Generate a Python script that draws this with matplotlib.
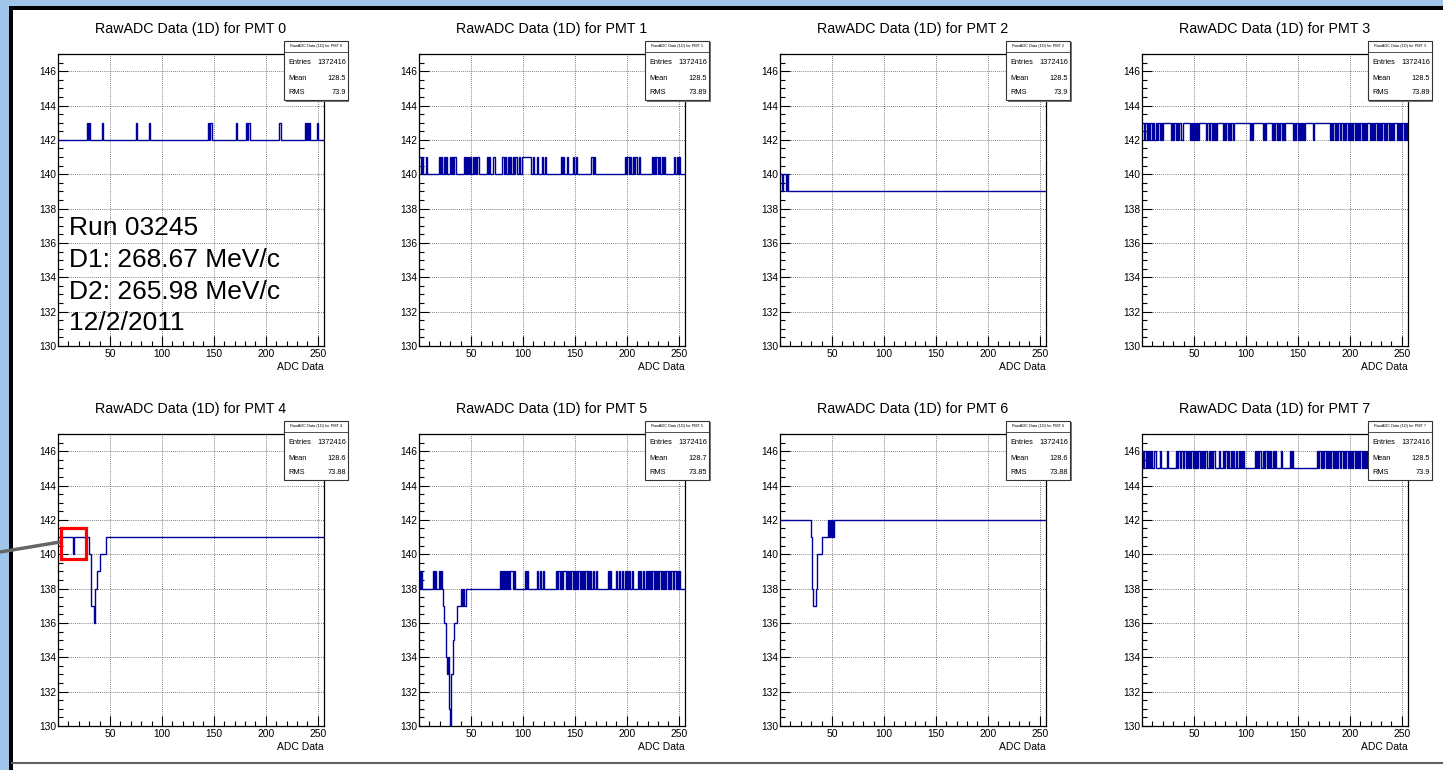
import matplotlib.pyplot as plt
import numpy as np
from matplotlib.patches import Rectangle
from matplotlib.ticker import FixedLocator, MultipleLocator

plt.rcParams["font.family"] = ["Liberation Sans", "DejaVu Sans"]

# ---- data (256 bins, 0..256) ----
n_bins = 256
pmt_ids = [0, 1, 2, 3, 4, 5, 6, 7]
base_level = [142, 140, 139, 142, 141, 138, 142, 145]

# bins that sit one count above the base level
up0 = [28, 30, 42, 75, 88, 144, 146, 147, 171, 181, 183, 184, 213, 214, 238, 240, 242, 249]
up1 = [0, 1, 3, 7, 19, 21, 24, 26, 30, 32, 34, 35, 43, 45, 47, 49, 52, 54, 56, 57,
       65, 67, 71, 72, 80, 81, 83, 86, 88, 90, 92, 93, 96,
       99, 100, 101, 102, 103, 104, 105, 106, 107, 110, 114, 118, 121,
       137, 139, 142, 148, 151, 166, 168, 198, 200, 201, 203, 206, 208, 209, 212,
       224, 226, 228, 229, 231, 234, 236, 245, 248, 250]
up2 = [0, 1, 3, 4, 5, 7]
up3 = [0, 1, 3, 4, 6, 8, 9, 11, 13, 15, 16, 18,
       20, 21, 22, 23, 24, 25, 26, 27, 29, 31, 32, 34, 36, 37,
       39, 40, 41, 42, 43, 44, 45, 47, 49, 51, 53,
       55, 56, 57, 58, 59, 60, 61, 63, 65, 66, 68, 70,
       72, 73, 74, 75, 76, 77, 79, 81, 82, 84, 86, 87,
       89, 90, 91, 92, 93, 94, 95, 96, 97, 98, 99, 100, 101, 102, 103, 105,
       107, 108, 109, 110, 111, 112, 113, 114, 115, 117,
       119, 120, 121, 122, 123, 124, 126, 128, 129, 131, 133, 134, 136, 138,
       139, 140, 141, 142, 143, 144, 146, 148, 149, 151, 153, 155, 157,
       158, 159, 160, 161, 162, 163, 164, 166, 167, 168, 169, 170, 171, 172, 173,
       174, 175, 176, 177, 178, 179, 180,
       182, 184, 185, 187, 189, 190, 192, 194, 196, 197, 199, 201, 203, 204, 206,
       208, 210, 211, 213, 215, 217, 218, 220, 222, 224, 225, 227, 229, 231, 232,
       234, 236, 237, 239, 241, 243, 244, 246, 248, 250, 251, 253, 255]
up4 = []
up5 = [0, 2, 13, 15, 19, 21,
       78, 80, 82, 84, 86, 88, 89, 91, 102, 104, 114, 116, 119,
       132, 134, 135, 137, 139, 140, 142, 144, 146, 147, 149, 151, 153, 154, 156,
       158, 160, 161, 163, 165, 167, 170, 182, 184, 190, 192, 195,
       198, 200, 202, 205, 211, 213, 216, 218,
       220, 222, 224, 225, 227, 229, 231, 232, 234, 236, 238, 239, 241, 243,
       245, 246, 248, 250]
up6 = []
up7 = [0, 2, 3, 5, 7, 9, 12, 17, 24,
       33, 35, 36, 38, 40, 41, 43, 45, 47, 48, 50, 52, 54, 55, 57, 59, 61, 62,
       64, 66, 68, 69, 74, 78, 80, 81, 83, 86, 88, 90, 93, 95, 97,
       109, 111, 113, 114, 116, 118, 119, 121, 123, 126, 128, 134, 142, 144,
       168, 170, 171, 173, 175, 176, 178, 180, 182, 183, 185, 187, 189, 190,
       192, 194, 196, 197, 199, 201, 203, 204, 206, 208, 210, 211, 213, 215,
       217, 219, 220, 222, 224, 226, 227, 229, 231, 233, 234, 236, 238, 240,
       241, 243, 245, 247, 248, 250, 252, 254]
up_bins = [up0, up1, up2, up3, up4, up5, up6, up7]

# (first bin, last bin, level) for the deeper dips
dips4 = [(14, 14, 140), (30, 31, 140), (32, 34, 137), (35, 35, 136),
         (36, 37, 138), (38, 39, 139), (40, 45, 140)]
dips5 = [(23, 23, 137), (24, 25, 136), (26, 26, 134), (27, 27, 133),
         (28, 28, 134), (29, 29, 131), (30, 30, 129), (31, 32, 133),
         (33, 33, 135), (34, 36, 136), (37, 39, 137), (41, 41, 137),
         (43, 44, 137)]
dips6 = [(30, 30, 141), (31, 31, 138), (32, 34, 137), (35, 35, 138),
         (36, 39, 140), (40, 45, 141), (47, 47, 141), (49, 49, 141), (51, 51, 141)]
dip_runs = [[], [], [], [], dips4, dips5, dips6, []]

entries = ["1372416"] * 8
means = ["128.5", "128.5", "128.5", "128.5", "128.6", "128.7", "128.6", "128.5"]
rms = ["73.9", "73.89", "73.9", "73.89", "73.88", "73.85", "73.88", "73.9"]

run_info = ["Run 03245", "D1: 268.67 MeV/c", "D2: 265.98 MeV/c", "12/2/2011"]

# ---- layout (pixels) ----
W, H = 1443, 770
col_left = [58, 419, 780, 1142]
row_top = [54, 434]
ax_w, ax_h = 266, 292
line_col = "#00009c"

fig = plt.figure(figsize=(W / 100, H / 100), dpi=100)
fig.patch.set_facecolor("white")

for i, pmt in enumerate(pmt_ids):
    r, c = divmod(i, 4)
    ax = fig.add_axes([col_left[c] / W, 1 - (row_top[r] + ax_h) / H, ax_w / W, ax_h / H])

    vals = np.full(n_bins, base_level[i], dtype=float)
    vals[up_bins[i]] = base_level[i] + 1
    for b0, b1, lev in dip_runs[i]:
        vals[b0:b1 + 1] = lev
    edges = np.arange(n_bins + 1)
    ax.stairs(vals, edges, baseline=None, color=line_col, lw=1.0, zorder=3)

    ax.set_xlim(0, 256)
    ax.set_ylim(130, 147)
    ax.xaxis.set_major_locator(FixedLocator([50, 100, 150, 200, 250]))
    ax.xaxis.set_minor_locator(MultipleLocator(10))
    ax.yaxis.set_major_locator(MultipleLocator(2))
    ax.yaxis.set_minor_locator(MultipleLocator(0.5))
    ax.tick_params(which="both", direction="in", top=False, right=False,
                   labelsize=7.4, pad=1.5, width=0.8, color="black")
    ax.tick_params(which="major", length=7)
    ax.tick_params(which="minor", length=3.5)
    ax.tick_params(axis="x", pad=2.5)
    ax.grid(which="major", color="#555555", linestyle=(0, (1, 1.5)), linewidth=0.6)
    for sp in ax.spines.values():
        sp.set_linewidth(0.9)

    title = f"RawADC Data (1D) for PMT {pmt}"
    ax.text(0.5, 1 + 25 / ax_h, title, transform=ax.transAxes,
            ha="center", va="center", fontsize=10.3)
    ax.text(1.0, -21 / ax_h, "ADC Data", transform=ax.transAxes,
            ha="right", va="center", fontsize=7.5)

    # stats box
    bx0, bx1 = 226 / ax_w, 290 / ax_w
    by0, by1 = 1 - 46 / ax_h, 1 + 13 / ax_h
    ax.add_patch(Rectangle((bx0 + 1.5 / ax_w, by0 - 1.5 / ax_h), bx1 - bx0, by1 - by0,
                           transform=ax.transAxes, facecolor="#777777", edgecolor="none",
                           clip_on=False, zorder=9))
    ax.add_patch(Rectangle((bx0, by0), bx1 - bx0, by1 - by0, transform=ax.transAxes,
                           facecolor="white", edgecolor="#333333", lw=0.8,
                           clip_on=False, zorder=10))
    sep = 1 + 2 / ax_h
    ax.plot([bx0, bx1], [sep, sep], transform=ax.transAxes, color="#333333",
            lw=0.6, clip_on=False, zorder=11)
    ax.text((bx0 + bx1) / 2, 1 + 7.5 / ax_h, title, transform=ax.transAxes,
            ha="center", va="center", fontsize=2.8, zorder=11)
    lx, rx = 230 / ax_w, 288 / ax_w
    for name, val, yy in [("Entries", entries[i], 9), ("Mean", means[i], 24), ("RMS", rms[i], 38)]:
        ax.text(lx, 1 - yy / ax_h, name, transform=ax.transAxes, ha="left",
                va="center", fontsize=5.3, zorder=11)
        ax.text(rx, 1 - yy / ax_h, val, transform=ax.transAxes, ha="right",
                va="center", fontsize=5.3, zorder=11)

    if pmt == 0:
        for k, line in enumerate(run_info):
            yc = [228, 260, 292, 323][k]
            ax.text(11 / ax_w, 1 - (yc - row_top[0]) / ax_h, line, transform=ax.transAxes,
                    ha="left", va="center", fontsize=19, zorder=4)

# ---- screenshot frame, callout and highlight box ----
ov = fig.add_axes([0, 0, 1, 1], zorder=20)
ov.set_xlim(0, W)
ov.set_ylim(H, 0)
ov.axis("off")
ov.patch.set_alpha(0)
ov.add_patch(Rectangle((0, 0), W, 5.5, facecolor="#9fc5e8", edgecolor="none"))
ov.add_patch(Rectangle((0, 0), 8.5, H, facecolor="#9fc5e8", edgecolor="none"))
ov.add_patch(Rectangle((8.5, 5.5), W, 4.5, facecolor="black", edgecolor="none"))
ov.add_patch(Rectangle((8.5, 5.5), 4, H, facecolor="black", edgecolor="none"))
ov.plot([12, W], [763, 763], color="#606060", lw=1.5)
ov.plot([0, 60], [552, 542], color="#666666", lw=2.5, solid_capstyle="butt")
ov.add_patch(Rectangle((61, 528), 25, 31, facecolor="none", edgecolor="#ff0000", lw=2.3))

fig.savefig("out.png", dpi=100)
